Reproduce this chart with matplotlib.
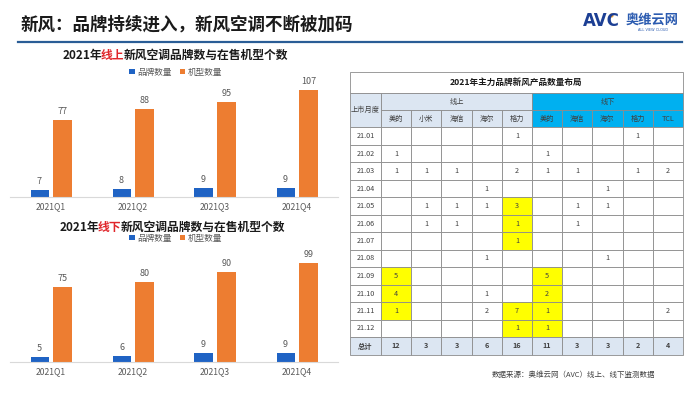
import matplotlib
matplotlib.use('Agg')
import matplotlib.pyplot as plt
from matplotlib.patches import Rectangle

plt.rcParams['font.family'] = ['Noto Sans CJK SC', 'DejaVu Sans']

# bar chart data
quarters = ['2021Q1', '2021Q2', '2021Q3', '2021Q4']
online_brands = [7, 8, 9, 9]
online_models = [77, 88, 95, 107]
offline_brands = [5, 6, 9, 9]
offline_models = [75, 80, 90, 99]

# table data (None = empty cell)
months = ['21.01', '21.02', '21.03', '21.04', '21.05', '21.06',
          '21.07', '21.08', '21.09', '21.10', '21.11', '21.12']
online_cols = ['美的', '小米', '海信', '海尔', '格力']
offline_cols = ['美的', '海信', '海尔', '格力', 'TCL']
cells = [
    [None, None, None, None, 1,    None, None, None, 1, None],
    [1, None, None, None, None,    1, None, None, None, None],
    [1, 1, 1, None, 2,             1, 1, None, 1, 2],
    [None, None, None, 1, None,    None, None, 1, None, None],
    [None, 1, 1, 1, 3,             None, 1, 1, None, None],
    [None, 1, 1, None, 1,          None, 1, None, None, None],
    [None, None, None, None, 1,    None, None, None, None, None],
    [None, None, None, 1, None,    None, None, 1, None, None],
    [5, None, None, None, None,    5, None, None, None, None],
    [4, None, None, 1, None,       2, None, None, None, None],
    [1, None, None, 2, 7,          1, None, None, None, 2],
    [None, None, None, None, 1,    1, None, None, None, None],
]
totals = [12, 3, 3, 6, 16, 11, 3, 3, 2, 4]
# highlighted (row, col) cells
yellow = [(4, 4), (5, 4), (6, 4), (10, 4), (11, 4),
          (8, 0), (9, 0), (10, 0),
          (8, 5), (9, 5), (10, 5), (11, 5)]

BLUE = '#1f63c4'
ORANGE = '#ed7d31'
W, H = 700, 394

fig = plt.figure(figsize=(7, 3.94), dpi=100)
ov = fig.add_axes([0, 0, 1, 1])
ov.set_xlim(0, W)
ov.set_ylim(H, 0)
ov.axis('off')

# header
ov.text(21, 25, '新风：品牌持续进入，新风空调不断被加码', fontsize=12.6,
        fontweight='bold', color='#1a1a1a', va='center', ha='left')
ov.plot([18, 682], [41.5, 41.5], color='#2a5d96', lw=1.6)
ov.text(583, 21, 'AVC', fontsize=12, fontweight='bold', color='#1c3f94',
        va='center', ha='left', family='DejaVu Sans')
ov.plot([611], [15], 'o', color='#f0a030', ms=2)
ov.text(626, 20, '奥维云网', fontsize=9.5, fontweight='bold', color='#2b5bb0',
        va='center', ha='left')
ov.text(653, 29.5, 'ALL VIEW CLOUD', fontsize=2.5, color='#2b5bb0',
        va='center', ha='center', family='DejaVu Sans')


def two_color_title(x, y, pre, mid, post):
    t1 = ov.text(x, y, pre, fontsize=8.5, fontweight='bold', color='#1a1a1a',
                 va='center', ha='left')
    t2 = ov.annotate(mid, xy=(1, 0), xycoords=t1, xytext=(-1.5, 0),
                     textcoords='offset points', va='bottom', ha='left',
                     fontsize=8.5, fontweight='bold', color='#e0262b')
    ov.annotate(post, xy=(1, 0), xycoords=t2, va='bottom', ha='left',
                fontsize=8.5, fontweight='bold', color='#1a1a1a')


def bar_chart(base_px, brands, models, title_y, legend_y, mid, title_x):
    ax = fig.add_axes([10 / W, 1 - base_px / H, 328 / W, 120 / H])
    x = range(len(quarters))
    b1 = ax.bar([i - 0.14 for i in x], brands, width=0.22, color=BLUE)
    b2 = ax.bar([i + 0.14 for i in x], models, width=0.22, color=ORANGE)
    ax.bar_label(b1, padding=3, fontsize=6.5, color='#595959')
    ax.bar_label(b2, padding=3, fontsize=6.5, color='#595959')
    ax.set_xlim(-0.5, 3.5)
    ax.set_ylim(0, 120)
    ax.set_xticks(list(x))
    ax.set_xticklabels(quarters, fontsize=6.2, color='#595959')
    ax.tick_params(axis='x', length=0, pad=4)
    ax.set_yticks([])
    for s in ['top', 'left', 'right']:
        ax.spines[s].set_visible(False)
    ax.spines['bottom'].set_color('#d9d9d9')
    ax.patch.set_alpha(0)
    fig.legend([b1, b2], ['品牌数量', '机型数量'], loc='center',
               bbox_to_anchor=(176 / W, 1 - legend_y / H), ncol=2,
               frameon=False, fontsize=6.2, handlelength=0.6, handleheight=0.6,
               handletextpad=0.3, columnspacing=1.0, labelcolor='#595959')
    two_color_title(title_x, title_y, '2021年', mid, '新风空调品牌数与在售机型个数')


bar_chart(197, online_brands, online_models, 55, 72, '线上', 63)
bar_chart(362, offline_brands, offline_models, 227, 238, '线下', 60)

# table
tx0, tx1 = 350, 683
c0w = 31
cw = (tx1 - tx0 - c0w) / 10
ty_title, ty_h1, ty_h2, ty_r0 = 72, 93, 110, 127.25
rh = 17.5
LIGHT = '#dce6f2'
CYAN = '#00b0f0'
GRID = '#8c8c8c'


def cell(x, y, w, h, fc='white', text=None, bold=False, fs=5.2, color='#404040'):
    ov.add_patch(Rectangle((x, y), w, h, facecolor=fc, edgecolor=GRID, lw=0.6))
    if text is not None:
        ov.text(x + w / 2, y + h / 2, str(text), ha='center', va='center',
                fontsize=fs, color=color, fontweight='bold' if bold else 'normal')


cell(tx0, ty_title, tx1 - tx0, ty_h1 - ty_title, text='2021年主力品牌新风产品数量布局',
     bold=True, fs=6.2, color='#1a1a1a')
cell(tx0, ty_h1, c0w, ty_r0 - ty_h1, fc=LIGHT, text='上市月度')
cell(tx0 + c0w, ty_h1, 5 * cw, ty_h2 - ty_h1, fc=LIGHT, text='线上')
cell(tx0 + c0w + 5 * cw, ty_h1, 5 * cw, ty_h2 - ty_h1, fc=CYAN, text='线下')
for j, name in enumerate(online_cols + offline_cols):
    cell(tx0 + c0w + j * cw, ty_h2, cw, ty_r0 - ty_h2,
         fc=LIGHT if j < 5 else CYAN, text=name)
for i, m in enumerate(months):
    y = ty_r0 + i * rh
    cell(tx0, y, c0w, rh, text=m)
    for j, v in enumerate(cells[i]):
        fc = '#ffff00' if (i, j) in yellow else 'white'
        cell(tx0 + c0w + j * cw, y, cw, rh, fc=fc, text=v)
y = ty_r0 + len(months) * rh
cell(tx0, y, c0w, rh, fc=LIGHT, text='总计', bold=True)
for j, v in enumerate(totals):
    cell(tx0 + c0w + j * cw, y, cw, rh, fc=LIGHT, text=v, bold=True)

ov.text(492, 375, '数据来源：奥维云网（AVC）线上、线下监测数据', fontsize=5.4,
        color='#404040', va='center', ha='left')

fig.savefig('out.png', dpi=100)
